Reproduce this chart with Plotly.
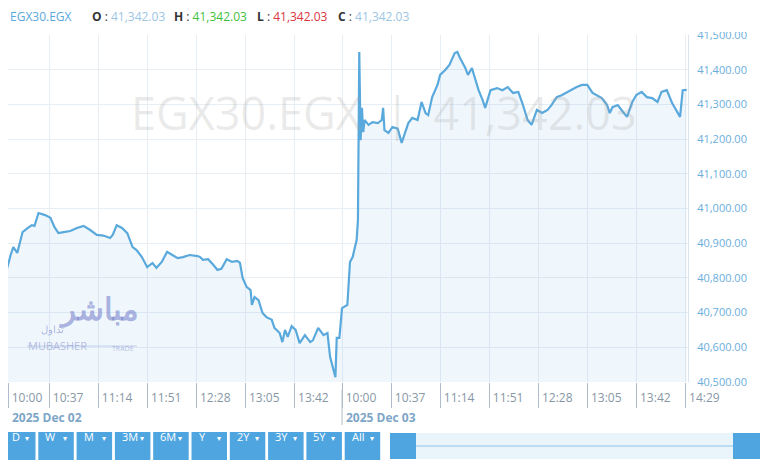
import plotly.graph_objects as go
import pandas as pd

# EGX30 intraday, two sessions
day1_times = ["10:00", "10:01", "10:03", "10:05", "10:08", "10:10", "10:13", "10:15", "10:17", "10:21",
              "10:24", "10:26", "10:29", "10:34", "10:38", "10:41", "10:44", "10:48", "10:53", "10:58",
              "11:03", "11:08", "11:13", "11:18", "11:23", "11:25", "11:28", "11:32", "11:36", "11:40",
              "11:43", "11:47", "11:51", "11:55", "11:58", "12:02", "12:06", "12:10", "12:14", "12:18",
              "12:23", "12:29", "12:31", "12:33", "12:37", "12:41", "12:44", "12:47", "12:51", "12:55",
              "12:59", "13:01", "13:03", "13:06", "13:09", "13:10", "13:12", "13:15", "13:18", "13:21",
              "13:25", "13:27", "13:31", "13:33", "13:35", "13:37", "13:40", "13:43", "13:46", "13:50",
              "13:54", "13:56", "14:00", "14:04", "14:07", "14:09", "14:11", "14:13", "14:14", "14:16"]
day1_values = [40771, 40823, 40831, 40823, 40866, 40889, 40872, 40901, 40932, 40944,
               40952, 40950, 40987, 40981, 40973, 40947, 40929, 40932, 40935, 40944,
               40950, 40938, 40924, 40922, 40915, 40924, 40952, 40944, 40929, 40889,
               40880, 40860, 40831, 40843, 40829, 40846, 40875, 40866, 40857, 40860,
               40866, 40863, 40860, 40852, 40854, 40837, 40823, 40826, 40854, 40846,
               40849, 40843, 40800, 40774, 40765, 40722, 40745, 40736, 40699, 40687,
               40679, 40656, 40641, 40615, 40650, 40630, 40661, 40650, 40612, 40635,
               40615, 40620, 40656, 40635, 40641, 40572, 40543, 40514, 40627, 40627]

day2_times = ["10:00", "10:04", "10:06", "10:08", "10:11", "10:12", "10:13", "10:14", "10:15", "10:16",
              "10:17", "10:20", "10:23", "10:27", "10:30", "10:31", "10:32", "10:35", "10:38", "10:42",
              "10:45", "10:47", "10:50", "10:53", "10:57", "11:00", "11:03", "11:05", "11:08", "11:12",
              "11:14", "11:18", "11:21", "11:25", "11:27", "11:29", "11:33", "11:35", "11:38", "11:40",
              "11:43", "11:46", "11:48", "11:52", "11:57", "12:01", "12:05", "12:09", "12:13", "12:16",
              "12:20", "12:23", "12:27", "12:31", "12:35", "12:38", "12:42", "12:46", "12:50", "12:53",
              "12:57", "13:01", "13:05", "13:09", "13:12", "13:16", "13:20", "13:22", "13:24", "13:28",
              "13:32", "13:35", "13:39", "13:42", "13:46", "13:50", "13:54", "13:58", "14:01", "14:05",
              "14:09", "14:13", "14:15", "14:17", "14:20"]
day2_values = [40713, 40722, 40846, 40860, 40909, 40967, 41451, 41197, 41290, 41220,
               41255, 41241, 41249, 41246, 41255, 41290, 41226, 41218, 41235, 41230,
               41189, 41212, 41246, 41261, 41255, 41307, 41275, 41269, 41321, 41356,
               41385, 41400, 41414, 41448, 41451, 41434, 41405, 41385, 41405, 41379,
               41341, 41313, 41290, 41341, 41347, 41341, 41350, 41333, 41336, 41304,
               41255, 41241, 41284, 41275, 41284, 41298, 41321, 41327, 41336, 41341,
               41350, 41356, 41356, 41333, 41327, 41318, 41298, 41275, 41292, 41298,
               41278, 41264, 41307, 41327, 41336, 41321, 41318, 41307, 41336, 41341,
               41304, 41278, 41264, 41341, 41342.03]

day_labels = ["2025 Dec 02", "2025 Dec 03"]
day1_ticks = ["10:00", "10:37", "11:14", "11:51", "12:28", "13:05", "13:42"]
day2_ticks = ["10:00", "10:37", "11:14", "11:51", "12:28", "13:05", "13:42", "14:29"]
range_buttons = ["D", "W", "M", "3M", "6M", "Y", "2Y", "3Y", "5Y", "All"]

symbol = "EGX30.EGX"
last = 41342.03

SESSION = 258   # slots given to one session on the axis
STEP = 37       # tick spacing in minutes
X0 = 6          # first visible slot (page body margin eats the first few px)


def mins(t):
    h, m = t.split(":")
    return (int(h) - 10) * 60 + int(m)


x1 = [mins(t) for t in day1_times]
x2 = [SESSION + mins(t) for t in day2_times]
xs = x1 + x2
ys = day1_values + day2_values

tickvals = [max(i * STEP, X0) for i in range(len(day1_ticks))] + \
           [SESSION + i * STEP for i in range(len(day2_ticks))]
ticktext = day1_ticks + day2_ticks

blue = "#5aa9dc"
fig = go.Figure()
fig.add_trace(go.Scatter(x=xs, y=ys, mode="lines",
                         line=dict(color=blue, width=2.2),
                         fill="tozeroy", fillcolor="rgba(110,175,225,0.10)",
                         hoverinfo="skip"))

# page has an 8px body margin, so the figure sits at (8, 8) on screen
fig.update_layout(
    width=780, height=470,
    margin=dict(l=0, r=100, t=27, b=96, autoexpand=False),
    paper_bgcolor="white", plot_bgcolor="white",
    showlegend=False,
    font=dict(family="Open Sans, Noto Sans, sans-serif"),
)
fig.update_xaxes(range=[X0, 519], tickvals=tickvals, ticktext=ticktext,
                 showgrid=True, gridcolor="#e7eef4", gridwidth=1,
                 ticks="outside", ticklen=25, tickcolor="#aebccb", tickwidth=1,
                 ticklabelshift=19, ticklabelstandoff=-20,
                 tickfont=dict(size=12, color="#8797a6"),
                 showline=False, zeroline=False, fixedrange=True, automargin=False)
fig.update_yaxes(range=[40500, 41500], side="right", dtick=100, tickformat=",.2f",
                 showgrid=True, gridcolor="#e7eef4", gridwidth=1,
                 showline=True, linecolor="#dde6ee",
                 ticks="", ticklabelstandoff=6,
                 tickfont=dict(size=11, color="#6aaedb"),
                 zeroline=False, fixedrange=True, automargin=False)

W = 680.0
H = 347.0
def px(x):
    return (x - 8) / W
def py(y):
    return (382 - y) / H

# clip the top y label like the source widget does
fig.add_shape(type="rect", xref="paper", yref="paper", x0=px(689), x1=px(790), y0=py(32), y1=py(0),
              fillcolor="white", line_width=0, layer="above")

# longer separator at the session change
fig.add_shape(type="line", xref="x", yref="paper", x0=SESSION, x1=SESSION, y0=py(390), y1=py(425),
              line=dict(color="#aebccb", width=1))

for i, lab in enumerate(day_labels):
    fig.add_annotation(x=max(i * SESSION, X0), y=py(417), xref="x", yref="paper", text="<b>%s</b>" % lab,
                       showarrow=False, xanchor="left", yanchor="middle", xshift=2,
                       font=dict(size=12, color="#7ea6c8"))

# header line
val = "{:,.2f}".format(last)
hdr = [(symbol, blue, None, 8), ("O", "#9cc6e4", val, 90), ("H", "#3fbf3f", val, 172),
       ("L", "#d9363e", val, 255), ("C", "#9cc6e4", val, 336)]
for key, col, v, hx in hdr:
    if v is None:
        txt = "<span style='color:%s'>%s</span>" % (col, key)
    else:
        txt = "<b>%s</b> : <span style='color:%s'>%s</span>" % (key, col, v)
    fig.add_annotation(x=px(hx), y=py(17), xref="paper", yref="paper", text=txt, showarrow=False,
                       xanchor="left", yanchor="middle", font=dict(size=12, color="#333333"))

# watermark
fig.add_annotation(x=px(384), y=py(80), xref="paper", yref="paper",
                   text="%s  |  %s" % (symbol, val), showarrow=False,
                   font=dict(size=45, color="rgba(160,160,160,0.22)"))

# Mubasher logo
logo = "rgba(110,120,200,0.55)"
fig.add_annotation(x=px(141), y=py(331), xref="paper", yref="paper", text="<b>مباشر</b>", showarrow=False,
                   xanchor="right", font=dict(size=31, color=logo))
fig.add_annotation(x=px(66), y=py(338), xref="paper", yref="paper", text="تداول", showarrow=False,
                   xanchor="right", font=dict(size=10, color=logo))
fig.add_shape(type="line", xref="paper", yref="paper", x0=px(27), x1=px(137), y0=py(346), y1=py(346),
              line=dict(color="rgba(140,150,210,0.45)", width=1))
fig.add_annotation(x=px(26), y=py(355), xref="paper", yref="paper", text="MUBASHER", showarrow=False,
                   xanchor="left", font=dict(size=11, color="rgba(140,150,210,0.6)"))
fig.add_annotation(x=px(110), y=py(355), xref="paper", yref="paper", text="TRADE", showarrow=False,
                   xanchor="left", font=dict(size=7, color="rgba(140,150,210,0.6)"))

# range buttons and navigator (widget chrome)
btn_blue = "#4ea5e0"
for i, b in enumerate(range_buttons):
    x0 = i * 38.3
    fig.add_shape(type="rect", xref="paper", yref="paper", x0=px(max(x0, 8)), x1=px(x0 + 35.5),
                  y0=py(460), y1=py(432), fillcolor=btn_blue, line_width=0)
    fig.add_annotation(x=px(max(x0 + 5, 10)), y=py(446), xref="paper", yref="paper", text=b, showarrow=False,
                       xanchor="left", font=dict(size=11, color="white"))
    fig.add_annotation(x=px(x0 + 31), y=py(445), xref="paper", yref="paper", text="▾", showarrow=False,
                       xanchor="right", font=dict(size=8, color="white"))

fig.add_shape(type="rect", xref="paper", yref="paper", x0=px(390), x1=px(760), y0=py(459), y1=py(433),
              fillcolor="#eaf4fb", line_width=0)
fig.add_shape(type="line", xref="paper", yref="paper", x0=px(416), x1=px(733), y0=py(446), y1=py(446),
              line=dict(color="#8cc3ea", width=1))
for a, b in [(390, 416), (733, 760)]:
    fig.add_shape(type="rect", xref="paper", yref="paper", x0=px(a), x1=px(b), y0=py(459), y1=py(433),
                  fillcolor=btn_blue, line_width=0)

fig.write_html("out.html")
